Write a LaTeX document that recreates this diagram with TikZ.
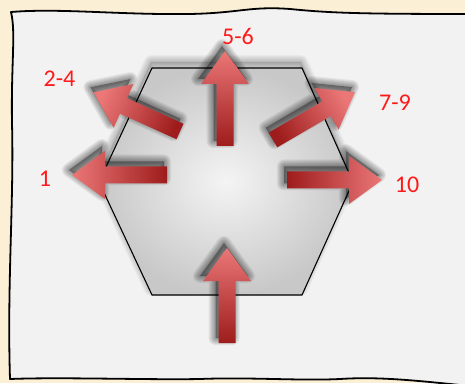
\documentclass[tikz,border=0pt]{standalone}
\usepackage{fontspec}
\setmainfont{Carlito}
\usetikzlibrary{calc}
\definecolor{bgbeige}{HTML}{FBEFD6}
\definecolor{paper}{HTML}{F2F2F2}
\definecolor{arrdark}{HTML}{9E1C1C}
\definecolor{arrlight}{HTML}{EB7777}
\definecolor{labred}{HTML}{FF1A1A}
\definecolor{hexin}{HTML}{F4F4F4}
\definecolor{hexout}{HTML}{C8C8C8}
\tikzset{
  paperline/.style={line width=1.8pt, fill=paper, line join=round},
  hexstyle/.style={draw=black, line width=1.1pt, inner color=hexin, outer color=hexout},
  arrowbody/.style={top color=arrlight, bottom color=arrdark},
  lab/.style={text=labred, font=\fontsize{24}{26}\selectfont, inner sep=0pt}
}
% soft shadow: path, xshift, yshift, stroke opacity, fill opacity
\newcommand\softshadow[5]{%
  \begin{scope}[transform canvas={xshift=#2pt,yshift=#3pt}]
    \foreach \w in {2,4,6,8,10,12,14} {\path[draw=black, draw opacity=#4, line width=\w pt, line join=round] #1;}
    \path[fill=black, fill opacity=#5] #1;
  \end{scope}}
\newcommand\blockarr[4]{% name, x, y, angle
  \pgfmathsetmacro\shang{#4-90}
  \path (#2,#3) coordinate (#1t) ++(#4:95) coordinate (#1h);
  \def\arrpts{($(#1t)+(#4-90:8.5)$) -- ($(#1t)+(#4-90:8.5)+(#4:62)$) -- ($(#1t)+(#4-90:24)+(#4:62)$)
    -- (#1h) -- ($(#1t)+(#4+90:24)+(#4:62)$) -- ($(#1t)+(#4+90:8.5)+(#4:62)$)
    -- ($(#1t)+(#4+90:8.5)$) -- cycle}
  \softshadow{\arrpts}{-3}{5}{0.06}{0.35}
  \path[arrowbody, shading angle=\shang] \arrpts;
}
\begin{document}
\begin{tikzpicture}[x=1pt,y=1pt]
\useasboundingbox (0,0) rectangle (465,383);
\fill[bgbeige] (0,0) rectangle (465,383);
% paper
\draw[paperline] (11,371) .. controls (60,375) and (120,368) .. (190,369)
  .. controls (240,370) and (250,377) .. (290,374)
  .. controls (330,370) and (360,369) .. (470,369) -- (470,-3) -- (440,0)
  .. controls (400,4) and (370,6) .. (340,4)
  .. controls (300,2) and (250,6) .. (200,4)
  .. controls (150,3) and (60,6) .. (10,4)
  .. controls (7,100) and (14,180) .. (12,260)
  .. controls (11,320) and (16,350) .. (11,371) -- cycle;
% hexagon
\coordinate (hA) at (152,315);
\coordinate (hB) at (302,315);
\coordinate (hC) at (353,201);
\coordinate (hD) at (302,88);
\coordinate (hE) at (152,88);
\coordinate (hF) at (99,201);
\def\hexpts{(hA) -- (hB) -- (hC) -- (hD) -- (hE) -- (hF) -- cycle}
\softshadow{\hexpts}{-1}{6}{0.03}{0.12}
\path[hexstyle] \hexpts;
% arrows
\blockarr{aone}{167}{208}{180}
\blockarr{aten}{287}{203}{0}
\blockarr{afive}{225}{237}{90}
\blockarr{abot}{227}{40}{90}
\blockarr{atwo}{180}{251.5}{155.6}
\blockarr{aseven}{273}{243}{30.3}
% labels
\node[lab] (l56) at (238,347) {5-6};
\node[lab] (l24) at (59.5,304.5) {2-4};
\node[lab] (l79) at (395,280) {7-9};
\node[lab] (l1) at (45,204) {1};
\node[lab] (l10) at (407,198) {10};
\end{tikzpicture}
\end{document}
